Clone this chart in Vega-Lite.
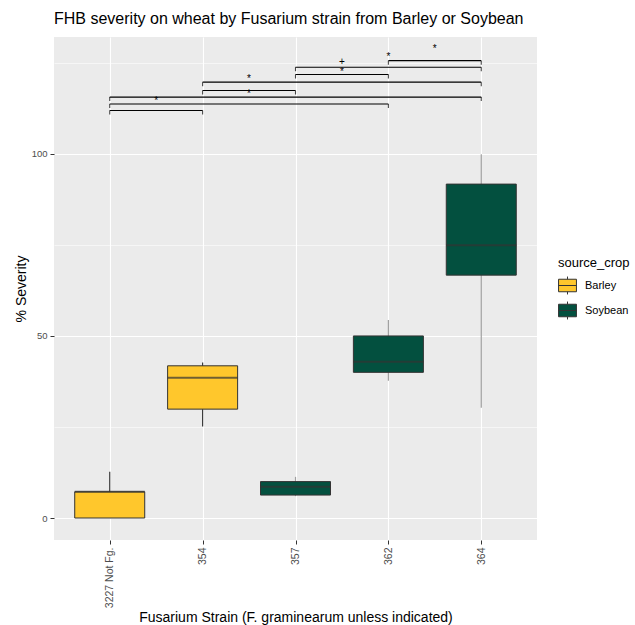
{
  "$schema": "https://vega.github.io/schema/vega-lite/v6.json",
  "autosize": "none",
  "width": 483,
  "height": 503,
  "padding": {"left": 54, "top": 37, "right": 98, "bottom": 85},
  "background": "white",
  "title": {
    "text": "FHB severity on wheat by Fusarium strain from Barley or Soybean",
    "anchor": "start",
    "frame": "group",
    "fontSize": 16,
    "fontWeight": "normal",
    "font": "Liberation Sans",
    "color": "#000000",
    "offset": 10
  },
  "config": {
    "font": "Liberation Sans",
    "view": {"fill": "#EBEBEB", "stroke": null},
    "axis": {
      "domain": false,
      "gridColor": "#FFFFFF",
      "gridWidth": 1.1,
      "tickColor": "#333333",
      "tickSize": 4,
      "labelColor": "#4D4D4D",
      "labelFontSize": 9.5,
      "labelFont": "Liberation Sans",
      "titleFont": "Liberation Sans",
      "titleFontWeight": "normal",
      "titleFontSize": 14,
      "titleColor": "#000000"
    }
  },
  "layer": [
    {
      "data": {
        "values": [
          {"strain": "3227 Not Fg.", "source_crop": "Barley", "lower": 0, "q1": 0, "median": 7.2, "q3": 7.2, "upper": 12.7},
          {"strain": "354", "source_crop": "Barley", "lower": 25.1, "q1": 29.9, "median": 38.5, "q3": 41.8, "upper": 42.7},
          {"strain": "357", "source_crop": "Soybean", "lower": 6.0, "q1": 6.3, "median": 8.6, "q3": 10.0, "upper": 11.3},
          {"strain": "362", "source_crop": "Soybean", "lower": 37.7, "q1": 40.0, "median": 42.9, "q3": 50.0, "upper": 54.4},
          {"strain": "364", "source_crop": "Soybean", "lower": 30.3, "q1": 66.7, "median": 74.9, "q3": 91.7, "upper": 99.9}
        ]
      },
      "encoding": {
        "x": {
          "field": "strain",
          "type": "nominal",
          "sort": ["3227 Not Fg.", "354", "357", "362", "364"],
          "scale": {"type": "point", "padding": 0.6},
          "axis": {
            "title": "Fusarium Strain (F. graminearum unless indicated)",
            "labelAngle": 270,
            "labelAlign": "right",
            "labelBaseline": "middle",
            "labelFontSize": 10.5,
            "labelPadding": 3,
            "titleBaseline": "middle",
            "titleY": 77,
            "grid": true
          }
        }
      },
      "layer": [
        {
          "mark": {"type": "rule", "strokeWidth": 1.2},
          "encoding": {
            "y": {
              "field": "lower",
              "type": "quantitative",
              "scale": {"domain": [-6.04, 132.1], "nice": false, "zero": false},
              "axis": {
                "title": "% Severity",
                "values": [0, 25, 50, 75, 100, 125],
                "labelExpr": "datum.value % 50 === 0 ? datum.label : ''",
                "tickOpacity": {"condition": {"test": "datum.value % 50 === 0", "value": 1}, "value": 0},
                "gridWidth": {"condition": {"test": "datum.value % 50 === 0", "value": 1.1}, "value": 0.55},
                "labelPadding": 3,
                "titlePadding": 3
              }
            },
            "y2": {"field": "upper"},
            "color": {
              "condition": {"test": "datum.source_crop === 'Soybean'", "value": "#A0A0A0"},
              "value": "#3A3A3A"
            }
          }
        },
        {
          "mark": {"type": "bar", "size": 70, "stroke": "#333333", "strokeWidth": 1},
          "encoding": {
            "y": {"field": "q1", "type": "quantitative"},
            "y2": {"field": "q3"},
            "fill": {
              "field": "source_crop",
              "type": "nominal",
              "scale": {"domain": ["Barley", "Soybean"], "range": ["#FFC72C", "#03503F"]},
              "legend": {
                "title": "source_crop",
                "orient": "none",
                "legendX": 504,
                "legendY": 220,
                "titleFontSize": 13,
                "titleFontWeight": "normal",
                "titleColor": "#000000",
                "titlePadding": 6,
                "labelFontSize": 11,
                "labelColor": "#000000",
                "symbolType": "M-1,-0.7H1V0.7H-1ZM-1,0H1M0,-0.7V-1M0,0.7V1",
                "symbolSize": 320,
                "symbolStrokeColor": "#333333",
                "symbolStrokeWidth": 1,
                "symbolOpacity": 1,
                "rowPadding": 2,
                "labelOffset": 8
              }
            }
          }
        },
        {
          "mark": {"type": "tick", "size": 70, "thickness": 2, "color": "#333333", "orient": "horizontal"},
          "encoding": {
            "y": {"field": "median", "type": "quantitative"}
          }
        }
      ]
    },
    {
      "layer": [
        {
          "data": {
            "values": [
              {"from": 1, "to": 2, "y": 111.9},
              {"from": 1, "to": 4, "y": 113.7},
              {"from": 1, "to": 5, "y": 115.6},
              {"from": 2, "to": 3, "y": 117.4},
              {"from": 2, "to": 5, "y": 119.7},
              {"from": 3, "to": 4, "y": 121.8},
              {"from": 3, "to": 5, "y": 123.8},
              {"from": 4, "to": 5, "y": 125.6}
            ]
          },
          "layer": [
            {
              "mark": {"type": "rule", "color": "#000000", "strokeWidth": 1.1},
              "encoding": {
                "x": {"field": "from", "type": "quantitative", "scale": {"domain": [0.4, 5.6], "nice": false, "zero": false}, "axis": null},
                "x2": {"field": "to"},
                "y": {"field": "y", "type": "quantitative"}
              }
            },
            {
              "mark": {"type": "tick", "orient": "vertical", "size": 4, "thickness": 1.1, "yOffset": 2, "color": "#000000"},
              "encoding": {
                "x": {"field": "from", "type": "quantitative"},
                "y": {"field": "y", "type": "quantitative"}
              }
            },
            {
              "mark": {"type": "tick", "orient": "vertical", "size": 4, "thickness": 1.1, "yOffset": 2, "color": "#000000"},
              "encoding": {
                "x": {"field": "to", "type": "quantitative"},
                "y": {"field": "y", "type": "quantitative"}
              }
            }
          ]
        },
        {
          "data": {
            "values": [
              {"pos": 1.5, "y": 115.1, "label": "*"},
              {"pos": 2.5, "y": 117.1, "label": "*"},
              {"pos": 2.5, "y": 121.0, "label": "*"},
              {"pos": 3.5, "y": 122.9, "label": "*"},
              {"pos": 3.5, "y": 125.8, "label": "+"},
              {"pos": 4.0, "y": 127.2, "label": "*"},
              {"pos": 4.5, "y": 129.3, "label": "*"}
            ]
          },
          "mark": {"type": "text", "fontSize": 10, "fill": "#000000", "baseline": "middle", "dy": 2},
          "encoding": {
            "x": {"field": "pos", "type": "quantitative"},
            "y": {"field": "y", "type": "quantitative"},
            "text": {"field": "label"}
          }
        }
      ]
    }
  ],
  "resolve": {"scale": {"x": "independent"}}
}
